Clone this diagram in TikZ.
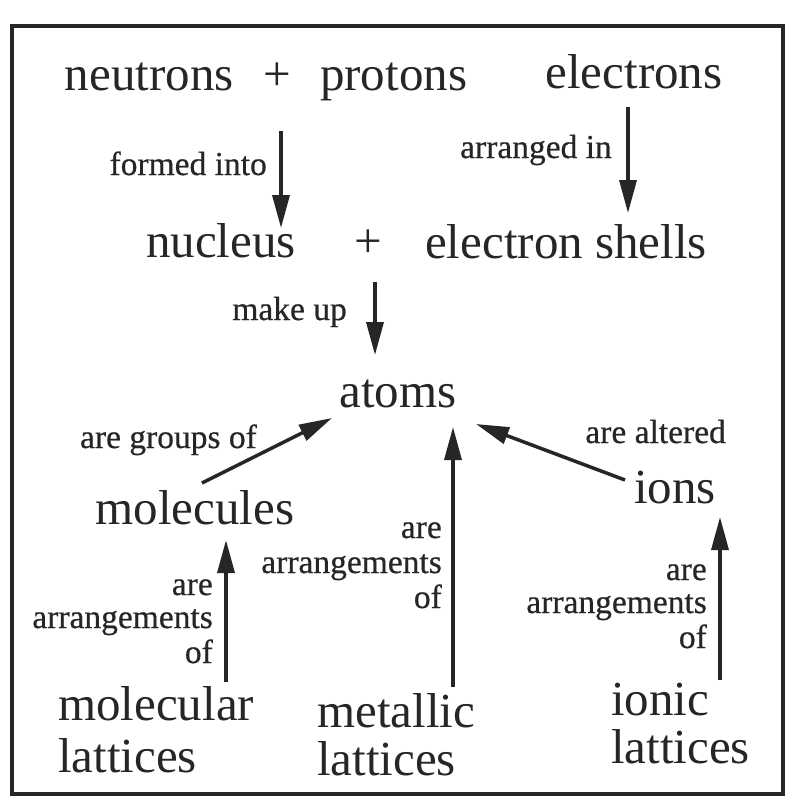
\documentclass[tikz,border=0pt]{standalone}
\usepackage{fontspec}
\setmainfont{Liberation Serif}
\newfontfamily\lblfont[FakeBold=0.5]{Liberation Serif}
\usetikzlibrary{arrows.meta}
\definecolor{ink}{HTML}{262626}
\tikzset{
  big/.style={font=\fontsize{49}{52}\selectfont, text=ink, inner sep=0pt},
  lbl/.style={font=\lblfont\fontsize{33.5}{35}\selectfont, text=ink, inner sep=0pt},
  arr/.style={line width=3.5pt, draw=ink, -{Triangle[length=33pt,width=17pt]}},
  frame/.style={line width=3.5pt, draw=ink}
}
\begin{document}
\begin{tikzpicture}[x=1pt,y=-1pt]
\useasboundingbox (0,0) rectangle (790,804);
\fill[white] (0,0) rectangle (790,804);
\draw[frame] (12,26) rectangle (783,794);

% main terms
\node[big, anchor=base] (np) at (266,90) {neutrons\hspace{0.6em}+\hspace{0.6em}protons};
\node[big, anchor=base] (el) at (634,88) {electrons};
\node[big, anchor=base] (nuc) at (221,257) {nucleus};
\node[big, anchor=base] (plus) at (368,257) {+};
\node[big, anchor=base] (sh) at (566,258) {electron shells};
\node[big, anchor=base] (at) at (398,407) {atoms};
\node[big, anchor=base] (mol) at (195,524) {molecules};
\node[big, anchor=base] (ion) at (675,503) {ions};
\node[big, anchor=base west] (ml1) at (58,720) {molecular};
\node[big, anchor=base west] (ml2) at (58,772) {lattices};
\node[big, anchor=base west] (mt1) at (317,727) {metallic};
\node[big, anchor=base west] (mt2) at (317,775) {lattices};
\node[big, anchor=base west] (il1) at (611,715) {ionic};
\node[big, anchor=base west] (il2) at (611,763) {lattices};

% labels
\node[lbl, anchor=base east] (l1) at (267,175) {formed into};
\node[lbl, anchor=base east] (l2) at (612,158) {arranged in};
\node[lbl, anchor=base east] (l3) at (347,320) {make up};
\node[lbl, anchor=base east] (l4) at (257,448) {are groups of};
\node[lbl, anchor=base east] (l5) at (726,443) {are altered};
\node[lbl, anchor=base east] (la1) at (213,595) {are};
\node[lbl, anchor=base east] (la2) at (213,628) {arrangements};
\node[lbl, anchor=base east] (la3) at (213,663) {of};
\node[lbl, anchor=base east] (lb1) at (442,538) {are};
\node[lbl, anchor=base east] (lb2) at (442,573) {arrangements};
\node[lbl, anchor=base east] (lb3) at (442,608) {of};
\node[lbl, anchor=base east] (lc1) at (707,580) {are};
\node[lbl, anchor=base east] (lc2) at (707,613) {arrangements};
\node[lbl, anchor=base east] (lc3) at (707,648) {of};

% connector end points
\coordinate (a1s) at (281,131); \coordinate (a1e) at (281,228);
\coordinate (a2s) at (628,107); \coordinate (a2e) at (628,213);
\coordinate (a3s) at (375,282); \coordinate (a3e) at (375,355);
\coordinate (a4s) at (202,483); \coordinate (a4e) at (332,418);
\coordinate (a5s) at (625,480); \coordinate (a5e) at (476,424);
\coordinate (a6s) at (453,687); \coordinate (a6e) at (453,427);
\coordinate (a7s) at (226,682); \coordinate (a7e) at (226,540);
\coordinate (a8s) at (720,680); \coordinate (a8e) at (720,517);

\draw[arr] (a1s) -- (a1e);
\draw[arr] (a2s) -- (a2e);
\draw[arr] (a3s) -- (a3e);
\draw[arr] (a4s) -- (a4e);
\draw[arr] (a5s) -- (a5e);
\draw[arr] (a6s) -- (a6e);
\draw[arr] (a7s) -- (a7e);
\draw[arr] (a8s) -- (a8e);
\end{tikzpicture}
\end{document}
